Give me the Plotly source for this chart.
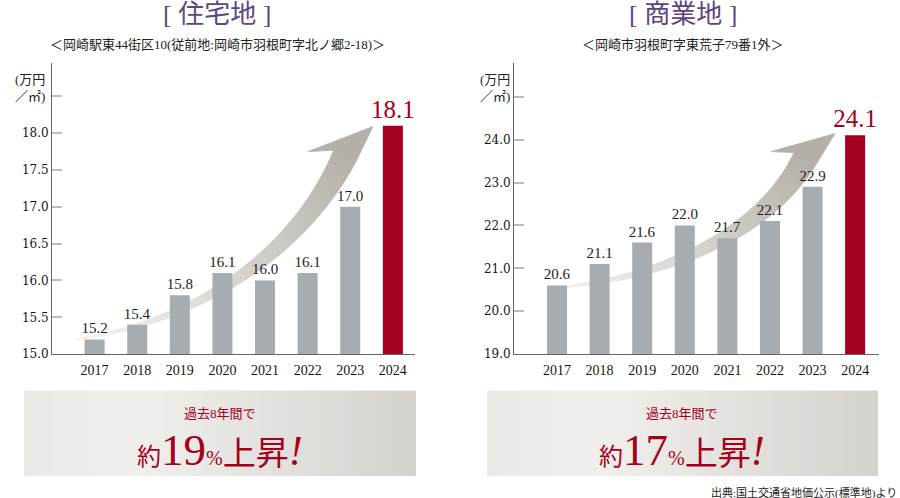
import numpy as np
import plotly.graph_objects as go

years = ["2017", "2018", "2019", "2020", "2021", "2022", "2023", "2024"]
res_values = [15.2, 15.4, 15.8, 16.1, 16.0, 16.1, 17.0, 18.1]
com_values = [20.6, 21.1, 21.6, 22.0, 21.7, 22.1, 22.9, 24.1]
res_ticks = [15.0, 15.5, 16.0, 16.5, 17.0, 17.5, 18.0, 18.5]
com_ticks = [19.0, 20.0, 21.0, 22.0, 23.0, 24.0, 25.0]

res_title = "[ 住宅地 ]"
com_title = "[ 商業地 ]"
res_sub = "＜岡崎駅東44街区10(従前地:岡崎市羽根町字北ノ郷2-18)＞"
com_sub = "＜岡崎市羽根町字東荒子79番1外＞"
res_rise = "19"
com_rise = "17"

W, H = 900, 498
FIG_H = 507  # the page gets squeezed a little vertically when photographed
GRAY = "#a6acb0"
RED = "#a5001e"
PURPLE = "#5d4584"
AXIS = "#6d6462"
FONT = "Liberation Serif, Noto Sans CJK JP"

def px(x):
    return x / W

def py(y):
    return 1 - y / H

def mix(c0, c1, t):
    c = [int(round(a + (b - a) * t)) for a, b in zip(c0, c1)]
    return "rgb(%d,%d,%d)" % tuple(c)

def arrow(P0, P1, P2, P3, barb, tip, n=45):
    # curved growth arrow made of thin quads so the grey gets darker toward the head
    P0, P1, P2, P3 = [np.array(p, float) for p in (P0, P1, P2, P3)]
    t = np.linspace(0, 1, n + 1)[:, None]
    B = (1 - t) ** 3 * P0 + 3 * (1 - t) ** 2 * t * P1 + 3 * (1 - t) * t ** 2 * P2 + t ** 3 * P3
    D = 3 * (1 - t) ** 2 * (P1 - P0) + 6 * (1 - t) * t * (P2 - P1) + 3 * t ** 2 * (P3 - P2)
    N = np.column_stack([D[:, 1], -D[:, 0]])
    N = N / np.linalg.norm(N, axis=1)[:, None]
    w = (1.0 + 11.5 * t[:, 0] ** 1.3)[:, None]
    up = B + w * N
    lo = B - w * N
    c0, c1 = (243, 242, 239), (180, 175, 168)
    out = []
    for i in range(n):
        col = mix(c0, c1, (i / n) ** 1.1)
        pts = [up[i], up[i + 1], lo[i + 1], lo[i]]
        path = "M " + " L ".join("%.5f,%.5f" % (px(p[0]), py(p[1])) for p in pts) + " Z"
        out.append(dict(type="path", path=path, xref="paper", yref="paper", layer="below",
                        fillcolor=col, line=dict(color=col, width=0.8)))
    col = mix(c0, c1, 1.0)
    pts = [up[-1], barb, tip, lo[-1]]
    path = "M " + " L ".join("%.5f,%.5f" % (px(p[0]), py(p[1])) for p in pts) + " Z"
    out.append(dict(type="path", path=path, xref="paper", yref="paper", layer="below",
                    fillcolor=col, line=dict(color=col, width=0.8)))
    return out

def panel(x0, x1, y0, y1, n=70):
    out = []
    stops = [(0.0, (234, 233, 230)), (0.3, (240, 239, 236)), (1.0, (213, 210, 206))]
    for i in range(n):
        f = (i + 0.5) / n
        for (a, ca), (b, cb) in zip(stops[:-1], stops[1:]):
            if a <= f <= b:
                col = mix(ca, cb, (f - a) / (b - a))
        xa = x0 + (x1 - x0) * i / n
        xb = x0 + (x1 - x0) * (i + 1) / n + 0.6
        out.append(dict(type="rect", xref="paper", yref="paper", layer="below",
                        x0=px(xa), x1=px(min(xb, x1)), y0=py(y1), y1=py(y0),
                        fillcolor=col, line=dict(width=0)))
    return out

fig = go.Figure()
idx = list(range(len(years)))
for vals, xa, ya in [(res_values, "x", "y"), (com_values, "x2", "y2")]:
    fig.add_trace(go.Bar(
        x=idx, y=vals, xaxis=xa, yaxis=ya, width=0.47,
        marker=dict(color=[GRAY] * 7 + [RED], line=dict(width=0)),
        text=["%.1f" % v for v in vals], textposition="outside", constraintext="none",
        textfont=dict(family="Liberation Serif", size=[15] * 7 + [25], color=["#1e1e1e"] * 7 + [RED]),
        cliponaxis=False, hoverinfo="skip", showlegend=False,
    ))

ydom = [py(352.7), py(63)]
common_y = dict(domain=ydom, showgrid=False, zeroline=False, showline=True, linecolor=AXIS, linewidth=1,
                ticks="inside", ticklen=10, tickwidth=2, tickcolor="#bdbdbd",
                tickfont=dict(family="DejaVu Serif", size=12, color="#151515"))
common_x = dict(showgrid=False, zeroline=False, showline=True, linecolor=AXIS, linewidth=1,
                ticks="", tickvals=idx, ticktext=years, ticklabelstandoff=3,
                tickfont=dict(family="Liberation Serif", size=14, color="#151515"))

fig.update_layout(
    width=W, height=FIG_H, margin=dict(l=0, r=0, t=0, b=0),
    paper_bgcolor="white", plot_bgcolor="rgba(0,0,0,0)",
    font=dict(family=FONT),
    xaxis=dict(common_x, domain=[px(52), px(415)], range=[-1, 7.52], anchor="y"),
    xaxis2=dict(common_x, domain=[px(514), px(879)], range=[-1.01, 7.56], anchor="y2"),
    yaxis=dict(common_y, range=[15, 18.95], tickvals=res_ticks,
               ticktext=["%.1f" % v for v in res_ticks[:-1]] + [""], anchor="x"),
    yaxis2=dict(common_y, range=[19, 25.78], tickvals=com_ticks,
                ticktext=["%.1f" % v for v in com_ticks[:-1]] + [""], anchor="x2"),
)

shapes = []
shapes += arrow((76, 338), (200, 320), (300, 250), (345, 155), (308, 151), (373, 126))
shapes += arrow((560, 286), (650, 278), (760, 240), (805, 158), (771, 151), (835, 133))
shapes += panel(24, 416, 389, 474)
shapes += panel(487, 878, 389, 474)
fig.update_layout(shapes=shapes)

ann = []
def note(x, y, text, size, color, xanchor="center", align="center"):
    ann.append(dict(x=px(x), y=py(y), xref="paper", yref="paper", text=text, showarrow=False,
                    xanchor=xanchor, yanchor="middle", align=align, font=dict(size=size, color=color)))

for cx, title, sub, ux in [(217, res_title, res_sub, 47), (683, com_title, com_sub, 512)]:
    note(cx, 14, title, 26, PURPLE)
    note(cx, 44, sub, 13, "#222222")
    note(ux, 88, "(万円<br>／㎡)", 13, "#222222", xanchor="right", align="left")
for cx, rise in [(220, res_rise), (682, com_rise)]:
    note(cx, 412, "過去8年間で", 13, RED)
    big = ("<span style='font-size:24px'>約</span><span style='font-size:45px'>%s</span>"
           "<span style='font-size:20px'>%%</span><span style='font-size:33px'>上昇</span>"
           "<span style='font-size:42px'><i>!</i></span>") % rise
    note(cx, 448, big, 24, RED)
note(899, 491, "出典:国土交通省地価公示(標準地)より", 11, "#222222", xanchor="right")
fig.update_layout(annotations=ann)

fig.write_html("out.html", config={"displayModeBar": False},
               post_script="document.body.style.margin='0';")
